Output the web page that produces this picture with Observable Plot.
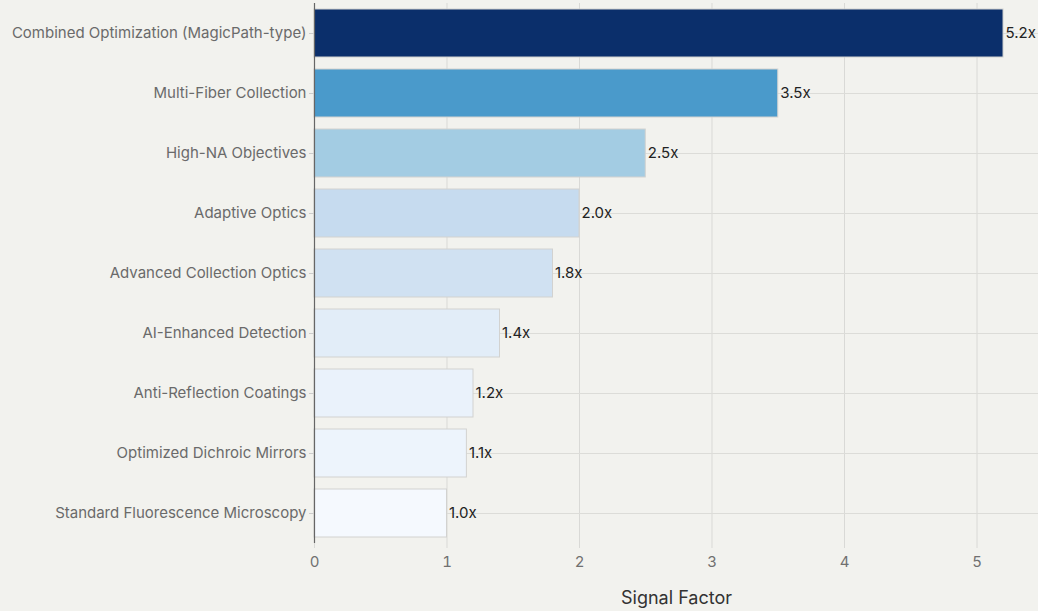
<!DOCTYPE html>
<html>
<head>
<meta charset="utf-8">
<script src="https://cdn.jsdelivr.net/npm/d3@7"></script>
<script src="https://cdn.jsdelivr.net/npm/@observablehq/plot@0.6"></script>
<style>
  html, body { margin: 0; padding: 0; background: #f2f2ee; }
  #chart { width: 1038px; height: 611px; }
  svg { font-family: Inter, "Helvetica Neue", Arial, sans-serif; }
</style>
</head>
<body>
<div id="chart"></div>
<script>
const categories = [
  "Combined Optimization (MagicPath-type)",
  "Multi-Fiber Collection",
  "High-NA Objectives",
  "Adaptive Optics",
  "Advanced Collection Optics",
  "AI-Enhanced Detection",
  "Anti-Reflection Coatings",
  "Optimized Dichroic Mirrors",
  "Standard Fluorescence Microscopy"
];
const values = [5.2, 3.5, 2.5, 2.0, 1.8, 1.4, 1.2, 1.15, 1.0];
const valueLabels = ["5.2x", "3.5x", "2.5x", "2.0x", "1.8x", "1.4x", "1.2x", "1.1x", "1.0x"];
const barColors = ["#0b2f6b", "#4a9acb", "#a3cce3", "#c6dbef", "#d0e1f2", "#e2edf8", "#eaf2fb", "#edf4fc", "#f5f9fe"];
const xTicks = [0, 1, 2, 3, 4, 5];

const data = categories.map((c, i) => ({category: c, value: values[i], label: valueLabels[i]}));

const chart = Plot.plot({
  width: 1038,
  height: 611,
  marginLeft: 314,
  marginRight: 0,
  marginTop: 3,
  marginBottom: 68,
  style: {background: "#f2f2ee", fontFamily: "Inter, 'Helvetica Neue', Arial, sans-serif"},
  x: {domain: [0, 5.464], ticks: xTicks, tickFormat: "d", label: null},
  y: {domain: categories, paddingInner: 0.2, paddingOuter: 0.1, label: null},
  color: {type: "ordinal", domain: categories, range: barColors},
  marks: [
    Plot.gridX({ticks: xTicks, stroke: "#d9d9d6", strokeOpacity: 1}),
    Plot.gridY({stroke: "#dcdcd8", strokeOpacity: 1}),
    Plot.barX(data, {x: "value", y: "category", fill: "category", stroke: "#d2d2d0", strokeWidth: 1}),
    Plot.ruleX([0], {stroke: "#666", strokeWidth: 1.2}),
    Plot.text(data, {x: "value", y: "category", text: "label", textAnchor: "start", dx: 2, fill: "#222", fontSize: 15}),
    Plot.axisX({ticks: xTicks, tickFormat: "d", tickSize: 5, tickPadding: 8, fontSize: 15, color: "#707070", stroke: "#d9d9d6", label: null}),
    Plot.axisY({tickSize: 5, tickPadding: 3, fontSize: 15, color: "#6a6a6a", stroke: "#ccc", label: null}),
    Plot.text(["Signal Factor"], {frameAnchor: "bottom", dy: 60, fontSize: 18, fill: "#333"})
  ]
});
document.getElementById("chart").appendChild(chart);
</script>
</body>
</html>
